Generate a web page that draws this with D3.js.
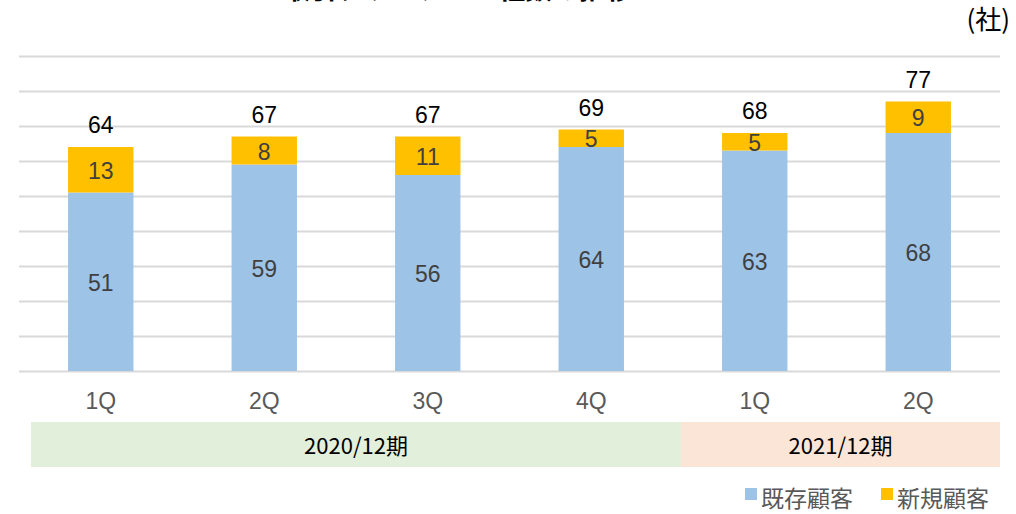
<!DOCTYPE html>
<html><head><meta charset="utf-8">
<script src="https://cdn.jsdelivr.net/npm/d3@7"></script>
<style>body{margin:0;background:#fff}svg{display:block}</style>
</head><body>
<svg id="c" width="1016" height="514"></svg>
<script>
const categories = ["1Q","2Q","3Q","4Q","1Q","2Q"];
const existing = [51,59,56,64,63,68];
const newer = [13,8,11,5,5,9];
const totals = [64,67,67,69,68,77];
const yTicks = [0,10,20,30,40,50,60,70,80,90];
const periods = [{label:"2020/12期", from:0, to:3, color:"#e2efda"},{label:"2021/12期", from:4, to:5, color:"#fbe5d6"}];
const seriesNames = ["既存顧客","新規顧客"];
const colors = ["#9dc3e6","#ffc000"];
const title = "取引クライアント社数の推移";
const unit = "(社)";

const svg = d3.select("#c");
const L=19, R=1000, T=56, B=371;
const x = d3.scaleBand().domain(d3.range(categories.length)).range([L,R]).paddingInner(0.6).paddingOuter(0.3);
const y = d3.scaleLinear().domain([0,90]).range([B,T]);
const latin = "'Liberation Sans', Arial, sans-serif";
const cjk = "'Noto Sans CJK JP', sans-serif";

svg.append("text").attr("x",458).attr("y",-1).attr("text-anchor","middle")
  .style("font-family",cjk).style("font-weight","bold").style("font-size","27px").attr("fill","#000").text(title);
svg.append("text").attr("x",1010).attr("y",29).attr("text-anchor","end")
  .style("font-family",cjk).style("font-size","26px").attr("fill","#000").text(unit);

svg.append("g").selectAll("line").data(yTicks).join("line")
  .attr("x1",L).attr("x2",R).attr("y1",d=>y(d)+0.5).attr("y2",d=>y(d)+0.5)
  .attr("stroke","#d9d9d9").attr("stroke-width",2);

const stack = categories.map((c,i)=>({i, a:existing[i], b:newer[i]}));
const g = svg.append("g");
g.selectAll("rect.a").data(stack).join("rect").attr("class","a")
  .attr("x",d=>x(d.i)).attr("width",x.bandwidth())
  .attr("y",d=>y(d.a)).attr("height",d=>y(0)-y(d.a)).attr("fill",colors[0]);
g.selectAll("rect.b").data(stack).join("rect").attr("class","b")
  .attr("x",d=>x(d.i)).attr("width",x.bandwidth())
  .attr("y",d=>y(d.a+d.b)).attr("height",d=>y(d.a)-y(d.a+d.b)).attr("fill",colors[1]);

const lab = (sel)=>sel.attr("text-anchor","middle").attr("dominant-baseline","central").style("font-family",latin).style("font-size","23px");
lab(g.selectAll("text.a").data(stack).join("text").attr("class","a")
  .attr("x",d=>x(d.i)+x.bandwidth()/2).attr("y",d=>(y(0)+y(d.a))/2+1).attr("fill","#404040").text(d=>d.a));
lab(g.selectAll("text.b").data(stack).join("text").attr("class","b")
  .attr("x",d=>x(d.i)+x.bandwidth()/2).attr("y",d=>(y(d.a)+y(d.a+d.b))/2+1).attr("fill","#404040").text(d=>d.b));
lab(g.selectAll("text.t").data(totals).join("text").attr("class","t")
  .attr("x",(d,i)=>x(i)+x.bandwidth()/2).attr("y",d=>y(d)-22).attr("fill","#000").text(d=>d));

lab(svg.append("g").selectAll("text").data(categories).join("text")
  .attr("x",(d,i)=>x(i)+x.bandwidth()/2).attr("y",401).attr("fill","#595959").text(d=>d));

// period band edges: first box starts slightly inside the plot; split sits a bit right of the band midpoint
const step = x.step();
const edge0 = d => d.from===0 ? L+12 : x(d.from)-(step-x.bandwidth())/2 + 8;
const edge1 = d => d.to===categories.length-1 ? R : x(d.to)+x.bandwidth()+(step-x.bandwidth())/2 + 8;
const pg = svg.append("g");
pg.selectAll("rect").data(periods).join("rect")
  .attr("x",edge0).attr("width",d=>edge1(d)-edge0(d))
  .attr("y",422).attr("height",45).attr("fill",d=>d.color);
pg.selectAll("text").data(periods).join("text")
  .attr("x",d=>(edge0(d)+edge1(d))/2)
  .attr("y",444).attr("text-anchor","middle").attr("dominant-baseline","central")
  .style("font-family",cjk).style("font-size","22px").attr("fill","#000").text(d=>d.label);

const leg = svg.append("g");
const lx = [745, 881];
seriesNames.forEach((n,i)=>{
  leg.append("rect").attr("x",lx[i]).attr("y",488).attr("width",12).attr("height",12).attr("fill",colors[i]);
  leg.append("text").attr("x",lx[i]+16).attr("y",497).attr("dominant-baseline","central")
    .style("font-family",cjk).style("font-size","23px").attr("fill","#595959").text(n);
});
</script>
</body></html>
